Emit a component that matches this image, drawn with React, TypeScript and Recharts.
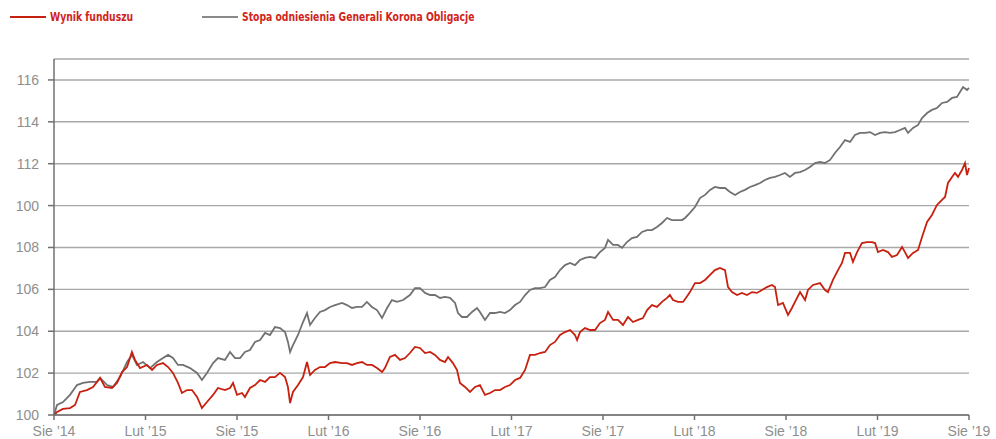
import { LineChart, Line, XAxis, YAxis, CartesianGrid } from "recharts";

// months since Aug 2014
const monthTicks = [0, 6, 12, 18, 24, 30, 36, 42, 48, 54, 60];
const monthLabels = ["Sie ’14", "Lut ’15", "Sie ’15", "Lut ’16", "Sie ’16", "Lut ’17", "Sie ’17", "Lut ’18", "Sie ’18", "Lut ’19", "Sie ’19"];

const yTicks = [100, 102, 104, 106, 108, 110, 112, 114, 116];
// the source chart really prints "100" at the 110 line
const yTickLabels = ["100", "102", "104", "106", "108", "100", "112", "114", "116"];

const fundMonths = [
  0, 0.2, 0.59, 1.05, 1.38, 1.7, 2.16, 2.56, 3.02, 3.34,
  3.8, 4.13, 4.46, 4.79, 5.11, 5.31, 5.64, 6.1, 6.43, 6.75,
  7.15, 7.48, 7.8, 8.13, 8.39, 8.72, 9.05, 9.38, 9.7, 10.03,
  10.43, 10.75, 11.21, 11.54, 11.74, 12.0, 12.33, 12.52, 12.85, 13.18,
  13.51, 13.84, 14.16, 14.49, 14.82, 15.15, 15.34, 15.48, 15.67, 16.0,
  16.33, 16.59, 16.79, 17.11, 17.44, 17.77, 18.1, 18.43, 18.89, 19.21,
  19.54, 19.87, 20.2, 20.52, 20.85, 21.18, 21.51, 21.7, 22.03, 22.36,
  22.69, 23.02, 23.34, 23.67, 24.0, 24.33, 24.66, 24.98, 25.31, 25.64,
  25.84, 26.16, 26.43, 26.62, 26.95, 27.28, 27.61, 27.93, 28.26, 28.59,
  28.92, 29.25, 29.57, 29.9, 30.23, 30.56, 30.89, 31.21, 31.54, 31.87,
  32.2, 32.52, 32.85, 33.18, 33.51, 33.84, 34.16, 34.3, 34.49, 34.82,
  35.15, 35.48, 35.8, 36.13, 36.33, 36.66, 36.98, 37.31, 37.64, 37.97,
  38.3, 38.62, 38.89, 39.21, 39.54, 39.87, 40.2, 40.39, 40.59, 40.92,
  41.25, 41.57, 41.7, 42.03, 42.36, 42.69, 43.02, 43.34, 43.67, 44.0,
  44.2, 44.46, 44.79, 45.11, 45.44, 45.77, 46.1, 46.43, 46.75, 47.08,
  47.28, 47.48, 47.8, 48.13, 48.39, 48.59, 48.92, 49.25, 49.44, 49.77,
  50.23, 50.56, 50.75, 51.08, 51.41, 51.67, 51.87, 52.2, 52.39, 52.66,
  52.98, 53.31, 53.64, 53.84, 54.03, 54.36, 54.69, 54.95, 55.28, 55.61,
  55.8, 56.0, 56.33, 56.66, 56.92, 57.25, 57.57, 57.9, 58.23, 58.43,
  58.62, 58.89, 59.08, 59.28, 59.54, 59.74, 59.87, 60.0,
];
const fundValues = [
  100.0, 100.14, 100.29, 100.33, 100.48, 101.1, 101.19, 101.34, 101.77, 101.34,
  101.29, 101.53, 102.05, 102.29, 103.01, 102.63, 102.24, 102.39, 102.15, 102.39,
  102.48, 102.29, 102.01, 101.53, 101.05, 101.19, 101.19, 100.86, 100.33, 100.62,
  100.96, 101.29, 101.19, 101.29, 101.53, 100.96, 101.05, 100.86, 101.29, 101.43,
  101.67, 101.58, 101.81, 101.81, 102.01, 101.81, 101.34, 100.57, 101.1, 101.43,
  101.81, 102.53, 101.91, 102.15, 102.29, 102.29, 102.48, 102.53, 102.48, 102.48,
  102.39, 102.48, 102.53, 102.39, 102.39, 102.24, 102.05, 102.24, 102.77, 102.87,
  102.63, 102.72, 102.96, 103.25, 103.2, 102.96, 103.01, 102.87, 102.63, 102.53,
  102.77, 102.48, 102.15, 101.53, 101.34, 101.1, 101.34, 101.43, 100.96, 101.05,
  101.19, 101.19, 101.34, 101.43, 101.67, 101.77, 102.15, 102.87, 102.87, 102.96,
  103.01, 103.34, 103.49, 103.82, 103.96, 104.06, 103.82, 103.58, 103.96, 104.15,
  104.06, 104.06, 104.39, 104.54, 104.92, 104.54, 104.54, 104.3, 104.68, 104.44,
  104.54, 104.63, 105.01, 105.25, 105.16, 105.4, 105.59, 105.73, 105.49, 105.4,
  105.4, 105.73, 105.87, 106.3, 106.3, 106.45, 106.69, 106.92, 107.02, 106.92,
  106.11, 105.87, 105.73, 105.83, 105.73, 105.87, 105.83, 105.97, 106.11, 106.21,
  106.11, 105.25, 105.35, 104.78, 105.11, 105.4, 105.87, 105.49, 105.97, 106.21,
  106.3, 105.97, 105.87, 106.45, 106.92, 107.26, 107.74, 107.74, 107.31, 107.78,
  108.21, 108.26, 108.26, 108.21, 107.78, 107.88, 107.78, 107.55, 107.64, 108.02,
  107.78, 107.5, 107.74, 107.88, 108.5, 109.22, 109.55, 110.03, 110.27, 110.41,
  111.08, 111.37, 111.56, 111.37, 111.7, 112.03, 111.46, 111.8,
];

const benchMonths = [
  0, 0.2, 0.59, 1.05, 1.51, 1.9, 2.36, 2.82, 3.02, 3.48,
  3.87, 4.33, 4.79, 5.11, 5.44, 5.84, 6.3, 6.75, 7.15, 7.48,
  7.8, 8.13, 8.46, 8.92, 9.38, 9.7, 10.03, 10.43, 10.75, 11.21,
  11.54, 11.87, 12.2, 12.52, 12.85, 13.18, 13.51, 13.84, 14.16, 14.49,
  14.82, 15.15, 15.34, 15.48, 15.67, 16.0, 16.33, 16.59, 16.79, 17.11,
  17.44, 17.77, 18.1, 18.43, 18.89, 19.21, 19.54, 19.87, 20.2, 20.52,
  20.85, 21.18, 21.51, 21.84, 22.16, 22.49, 22.89, 23.34, 23.67, 24.0,
  24.33, 24.66, 24.98, 25.31, 25.64, 25.97, 26.3, 26.49, 26.75, 27.08,
  27.41, 27.74, 27.93, 28.26, 28.59, 28.92, 29.25, 29.57, 29.9, 30.23,
  30.56, 30.89, 31.21, 31.54, 31.87, 32.2, 32.52, 32.85, 33.18, 33.51,
  33.84, 34.16, 34.49, 34.82, 35.15, 35.48, 35.8, 36.13, 36.33, 36.66,
  36.98, 37.25, 37.57, 37.9, 38.23, 38.56, 38.89, 39.21, 39.54, 39.87,
  40.2, 40.52, 40.85, 41.18, 41.38, 41.7, 42.03, 42.36, 42.69, 43.02,
  43.34, 43.67, 44.0, 44.33, 44.66, 44.98, 45.31, 45.64, 45.97, 46.3,
  46.62, 46.95, 47.28, 47.61, 47.93, 48.26, 48.59, 48.92, 49.25, 49.57,
  49.9, 50.23, 50.56, 50.89, 51.21, 51.54, 51.87, 52.2, 52.52, 52.85,
  53.18, 53.51, 53.84, 54.16, 54.49, 54.82, 55.15, 55.48, 55.8, 56.0,
  56.33, 56.66, 56.92, 57.25, 57.57, 57.9, 58.23, 58.56, 58.89, 59.21,
  59.41, 59.61, 59.87, 60.0,
];
const benchValues = [
  100.0, 100.48, 100.62, 100.96, 101.43, 101.53, 101.58, 101.58, 101.77, 101.43,
  101.34, 101.81, 102.53, 102.87, 102.39, 102.53, 102.24, 102.53, 102.72, 102.87,
  102.72, 102.39, 102.39, 102.24, 102.01, 101.67, 102.01, 102.48, 102.72, 102.63,
  103.01, 102.72, 102.72, 103.01, 103.1, 103.49, 103.58, 103.92, 103.82, 104.2,
  104.15, 103.96, 103.49, 103.01, 103.34, 103.82, 104.44, 104.87, 104.3, 104.63,
  104.92, 105.01, 105.16, 105.25, 105.35, 105.25, 105.11, 105.16, 105.16, 105.4,
  105.16, 105.01, 104.63, 105.11, 105.49, 105.4, 105.49, 105.73, 106.06, 106.06,
  105.83, 105.73, 105.73, 105.59, 105.64, 105.59, 105.35, 104.87, 104.68, 104.68,
  104.92, 105.11, 104.92, 104.54, 104.87, 104.87, 104.92, 104.87, 105.01, 105.25,
  105.4, 105.73, 105.97, 106.06, 106.06, 106.11, 106.45, 106.59, 106.92, 107.16,
  107.26, 107.16, 107.4, 107.5, 107.55, 107.5, 107.78, 107.98, 108.36, 108.12,
  108.12, 107.98, 108.26, 108.45, 108.5, 108.74, 108.83, 108.83, 108.98, 109.17,
  109.41, 109.31, 109.31, 109.31, 109.41, 109.65, 109.93, 110.36, 110.51, 110.75,
  110.89, 110.84, 110.84, 110.65, 110.51, 110.65, 110.75, 110.89, 110.98, 111.08,
  111.22, 111.32, 111.37, 111.46, 111.56, 111.37, 111.56, 111.6, 111.7, 111.84,
  112.03, 112.08, 112.03, 112.18, 112.51, 112.8, 113.13, 113.04, 113.37, 113.47,
  113.47, 113.51, 113.37, 113.47, 113.51, 113.47, 113.51, 113.61, 113.71, 113.47,
  113.71, 113.85, 114.18, 114.42, 114.57, 114.66, 114.9, 114.95, 115.14, 115.19,
  115.42, 115.66, 115.52, 115.62,
];

const fundData = fundMonths.map((m, i) => ({ m, v: fundValues[i] }));
const benchData = benchMonths.map((m, i) => ({ m, v: benchValues[i] }));

const RED = "#c8200f";
const GREY = "#717171";
const AXIS = "#707070";
const tickStyle = { fill: "#8e8e8e", fontSize: 14, fontFamily: "'Liberation Sans', Arial, sans-serif" };
const legendText = {
  color: "#d0241a",
  fontSize: 13,
  fontWeight: 700,
  fontFamily: "'Liberation Sans Narrow', 'DejaVu Sans Condensed', sans-serif",
  position: "absolute" as const,
  top: 9,
  whiteSpace: "nowrap" as const,
  transform: "scaleX(0.79)",
  transformOrigin: "left center",
};

export default function App() {
  return (
    <div style={{ position: "fixed", left: 0, top: 0, width: 996, height: 439, background: "#fff" }}>
      <div style={{ position: "absolute", left: 10, top: 16, width: 36, height: 2, background: RED }} />
      <div style={{ ...legendText, left: 50 }}>Wynik funduszu</div>
      <div style={{ position: "absolute", left: 202, top: 16, width: 36, height: 2, background: "#8a8a8a" }} />
      <div style={{ ...legendText, left: 242 }}>Stopa odniesienia Generali Korona Obligacje</div>

      <LineChart width={996} height={439} margin={{ top: 59, right: 27, left: 0, bottom: 0 }}>
        <CartesianGrid horizontal vertical={false} stroke="#a8a8a8" strokeWidth={1.4} />
        <XAxis
          type="number"
          dataKey="m"
          domain={[0, 60]}
          ticks={monthTicks}
          tickFormatter={(v, i) => monthLabels[i]}
          height={24}
          tick={tickStyle}
          tickSize={5}
          tickMargin={6}
          axisLine={{ stroke: AXIS, strokeWidth: 1.5 }}
          tickLine={{ stroke: AXIS, strokeWidth: 1.5 }}
          interval={0}
        />
        <YAxis
          type="number"
          domain={[100, 117]}
          ticks={yTicks}
          tickFormatter={(v, i) => yTickLabels[i]}
          width={54}
          tick={tickStyle}
          tickSize={6}
          tickMargin={9}
          axisLine={{ stroke: AXIS, strokeWidth: 1.5 }}
          tickLine={{ stroke: AXIS, strokeWidth: 1.5 }}
          interval={0}
        />
        <Line data={benchData} dataKey="v" type="linear" stroke={GREY} strokeWidth={1.8} dot={false} isAnimationActive={false} />
        <Line data={fundData} dataKey="v" type="linear" stroke={RED} strokeWidth={1.8} dot={false} isAnimationActive={false} />
      </LineChart>
    </div>
  );
}
